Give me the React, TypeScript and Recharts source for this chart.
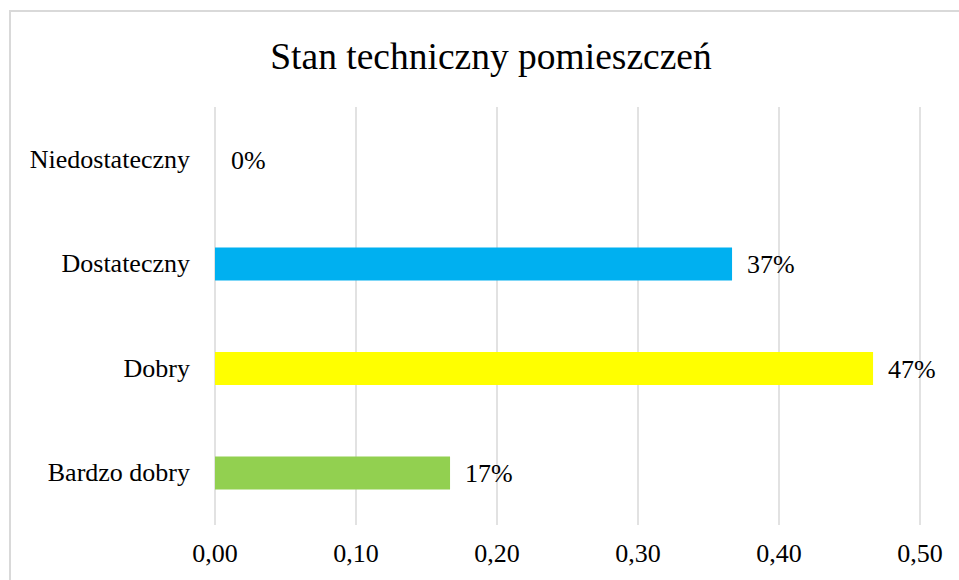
import { BarChart, Bar, XAxis, YAxis, CartesianGrid, Cell, LabelList } from "recharts"

const kategorie = ["Niedostateczny", "Dostateczny", "Dobry", "Bardzo dobry"]
const udzialy = [0, 0.3667, 0.4667, 0.1667]
const kolory = ["transparent", "#00B0F0", "#FFFF00", "#92D050"]
const osX = [0, 0.1, 0.2, 0.3, 0.4, 0.5]
const tytul = "Stan techniczny pomieszczeń"

const data = kategorie.map((k, i) => ({ kat: k, v: udzialy[i] }))
const font = "'Liberation Serif', 'Times New Roman', serif"
const fmtOs = (v: number) => v.toFixed(2).replace(".", ",")
const fmtProc = (v: any) => Math.round(Number(v) * 100) + "%"

const XTick = (p: any) => (
  <text x={p.x} y={p.y + 28} textAnchor="middle" dominantBaseline="central" fontSize={26} fontFamily={font} fill="#000">
    {fmtOs(p.payload.value)}
  </text>
)
const YTick = (p: any) => (
  <text x={p.x - 25} y={p.y} textAnchor="end" dominantBaseline="central" fontSize={26} fontFamily={font} fill="#000">
    {p.payload.value}
  </text>
)

export default function App() {
  // fixed, zeby nie bylo paskow przewijania
  return (
    <div style={{ position: "fixed", left: 8, top: 8, width: 951, height: 572, overflow: "hidden", background: "#fff" }}>
      <div style={{ position: "absolute", left: 1, top: 2, width: 1000, height: 1000, border: "2px solid #d9d9d9", boxSizing: "border-box" }} />
      <div style={{ position: "absolute", left: 0, top: 28, width: 966, textAlign: "center", fontFamily: font, fontSize: 37.5, color: "#000", lineHeight: "42px" }}>
        {tytul}
      </div>
      <div style={{ position: "absolute", left: 0, top: 0 }}>
        <BarChart width={951} height={572} data={data} layout="vertical" margin={{ top: 99, right: 39, bottom: 0, left: 0 }}>
          <CartesianGrid horizontal={false} stroke="#d9d9d9" strokeWidth={1.5} />
          <XAxis type="number" domain={[0, 0.5]} ticks={osX} height={55} axisLine={false} tickLine={false} tickSize={0} tickMargin={0} tick={<XTick />} interval={0} />
          <YAxis type="category" dataKey="kat" width={207} axisLine={false} tickLine={false} tickSize={0} tickMargin={0} tick={<YTick />} interval={0} />
          <Bar dataKey="v" barSize={33} minPointSize={1} isAnimationActive={false}>
            {data.map((d, i) => (
              <Cell key={d.kat} fill={kolory[i]} />
            ))}
            <LabelList dataKey="v" position="right" offset={15} formatter={fmtProc} style={{ fontSize: 26, fontFamily: font, fill: "#000" }} />
          </Bar>
        </BarChart>
      </div>
    </div>
  )
}
